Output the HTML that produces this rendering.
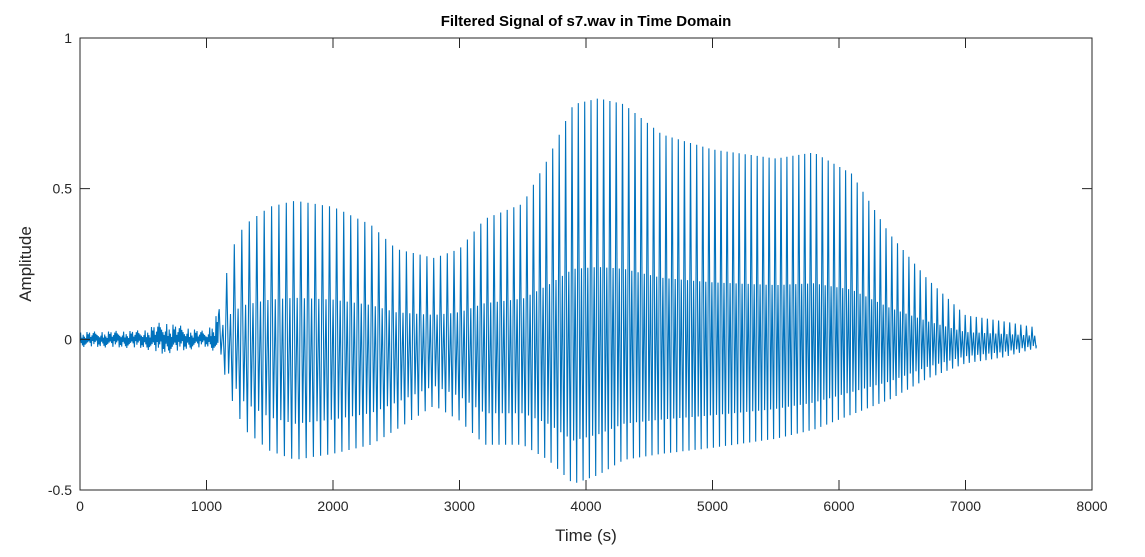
<!DOCTYPE html>
<html><head><meta charset="utf-8"><style>
body{margin:0;background:#fff;font-family:"Liberation Sans",Arial,sans-serif}
svg text{font-family:"Liberation Sans",Arial,sans-serif}
</style></head><body>
<svg id="chart" width="1145" height="552" xmlns="http://www.w3.org/2000/svg">
<rect width="1145" height="552" fill="#fff"/>
<text x="586" y="26" text-anchor="middle" font-size="15" font-weight="bold" fill="#000">Filtered Signal of s7.wav in Time Domain</text>
<g id="plot"></g>
<rect x="80" y="38" width="1012" height="452" fill="none" stroke="#262626" stroke-width="1"/>
<g id="axes"></g>
<text x="586" y="541" text-anchor="middle" font-size="17" fill="#262626">Time (s)</text>
<text transform="translate(31,264) rotate(-90)" text-anchor="middle" font-size="17" fill="#262626">Amplitude</text>
</svg>
<script>
const envTimes=[0,500,650,1000,1100,1200,1300,1500,1700,2000,2300,2500,2800,3000,3200,3500,3700,3900,4100,4300,4600,5000,5500,5800,6100,6400,6700,7000,7300,7550];
const envMax=[0.025,0.03,0.06,0.025,0.1,0.3,0.38,0.44,0.46,0.44,0.38,0.3,0.27,0.3,0.4,0.45,0.6,0.78,0.8,0.78,0.68,0.63,0.6,0.62,0.55,0.35,0.2,0.08,0.06,0.04];
const envMin=[-0.025,-0.03,-0.05,-0.025,-0.05,-0.2,-0.3,-0.37,-0.4,-0.38,-0.35,-0.3,-0.22,-0.27,-0.35,-0.35,-0.4,-0.48,-0.45,-0.4,-0.38,-0.36,-0.33,-0.3,-0.25,-0.2,-0.13,-0.08,-0.06,-0.03];
const noiseMult=[0.3,0.9,0.5,0.2,0.8,0.6,1.0,0.35,0.7,0.15,0.55,0.95,0.4,0.65,0.25,0.85,0.45];
const periodTimes=[1100,2000,3000,4000,5000,6000,7000,7600];
const periods=[60,56,53,50,48,46,44,44];
const xTicks=[0,1000,2000,3000,4000,5000,6000,7000,8000];
const yTicks=[-0.5,0,0.5,1];
const X0=80,X1=1092,Y0=490,Y1=38;
const xs=t=>X0+(t-0)/(8000)*(X1-X0);
const ys=v=>Y0-(v+0.5)/1.5*(Y0-Y1);
function interp(ts,vs,t){if(t<=ts[0])return vs[0];for(let i=1;i<ts.length;i++){if(t<=ts[i]){const f=(t-ts[i-1])/(ts[i]-ts[i-1]);return vs[i-1]+f*(vs[i]-vs[i-1]);}}return vs[vs.length-1];}
const ns="http://www.w3.org/2000/svg";
let pts=[];
let k=0;
for(let t=0;t<1100;t+=5,k++){const a=(k%2?interp(envTimes,envMax,t):interp(envTimes,envMin,t));pts.push([t,a*noiseMult[k%noiseMult.length]]);}
const ph=[0,0.25,0.5,0.75];
const fac=[1,-0.7,0.3,-1];
let t=1100;
while(t<7550){const p=interp(periodTimes,periods,t);for(let i=0;i<ph.length;i++){const tt=t+ph[i]*p;const mx=interp(envTimes,envMax,tt),mn=interp(envTimes,envMin,tt);const f=fac[i];pts.push([tt,f>=0?f*mx:-f*mn]);}t+=p;}
pts.push([7560,-0.02]);
const d=pts.map((q,i)=>(i?'L':'M')+xs(q[0]).toFixed(1)+' '+ys(q[1]).toFixed(1)).join('');
const path=document.createElementNS(ns,'path');


path.setAttribute('d',d);path.setAttribute('fill','none');path.setAttribute('stroke','#0072BD');path.setAttribute('stroke-width','1.1');
document.getElementById('plot').appendChild(path);
const ax=document.getElementById('axes');
xTicks.forEach(v=>{const x=xs(v);
 const l=document.createElementNS(ns,'path');
 
 
 l.setAttribute('d',`M${x} ${Y0}V${Y0-10}M${x} ${Y1}V${Y1+10}`);l.setAttribute('stroke','#262626');ax.appendChild(l);
 const tx=document.createElementNS(ns,'text');
 
 
 tx.setAttribute('x',x);tx.setAttribute('y',Y0+21);tx.setAttribute('text-anchor','middle');tx.setAttribute('font-size','14');tx.setAttribute('fill','#262626');tx.textContent=v;ax.appendChild(tx);});
yTicks.forEach(v=>{const y=ys(v);
 const l=document.createElementNS(ns,'path');
 
 
 l.setAttribute('d',`M${X0} ${y}H${X0+10}M${X1} ${y}H${X1-10}`);l.setAttribute('stroke','#262626');ax.appendChild(l);
 const tx=document.createElementNS(ns,'text');
 
 
 tx.setAttribute('x',X0-8);tx.setAttribute('y',y+5);tx.setAttribute('text-anchor','end');tx.setAttribute('font-size','14');tx.setAttribute('fill','#262626');tx.textContent=v;ax.appendChild(tx);});
</script>
</body></html>
